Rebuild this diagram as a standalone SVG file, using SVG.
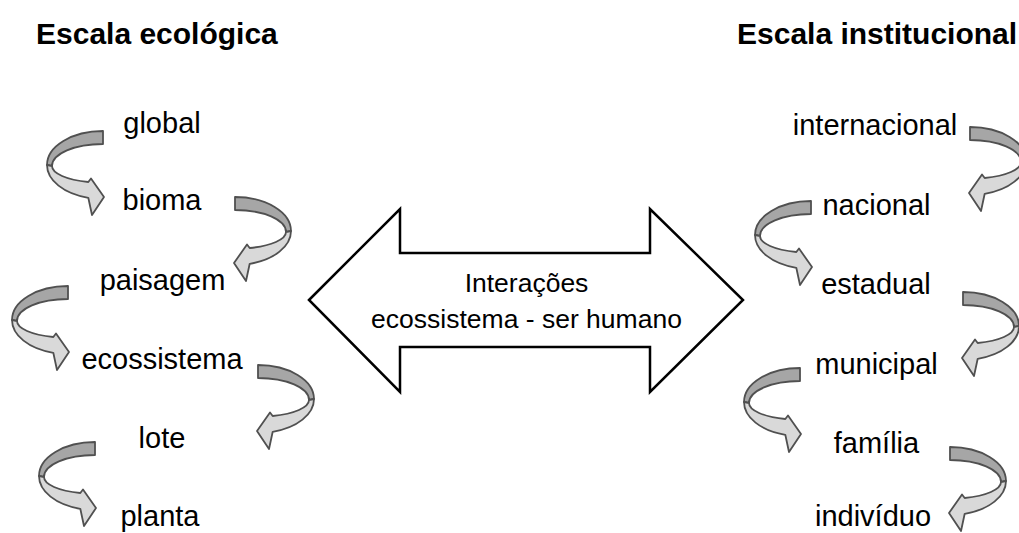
<svg xmlns="http://www.w3.org/2000/svg" xmlns:xlink="http://www.w3.org/1999/xlink" width="1019" height="533" viewBox="0 0 1019 533">
<defs>
<style>
.title{font-family:"Liberation Sans",Arial,sans-serif;font-weight:bold;font-size:30px;fill:#000}
.lbl{font-family:"Liberation Sans",Arial,sans-serif;font-size:29px;fill:#000;text-anchor:middle}
.ctr{font-family:"Liberation Sans",Arial,sans-serif;font-size:26.5px;fill:#000;text-anchor:middle}
.back{fill:#a6a6a6;stroke:#505050;stroke-width:1.8;stroke-linejoin:round}
.front{fill:#d9d9d9;stroke:#505050;stroke-width:1.8;stroke-linejoin:round}
.big{fill:#fff;stroke:#000;stroke-width:2.5;stroke-linejoin:miter}
</style>
<g id="curl">
<path class="back" d="M0,0 A56,34 0 0 0 -56,34 L-51,35 A51,22 0 0 1 0,13 Z"/>
<path class="front" d="M-56,34 A56,34 0 0 0 -14.7,66.8 L-11,84 L1,66 L-12,47.5 L-14.7,51 A51,16.7 0 0 1 -51,35 Z"/>
</g>
</defs>
<rect width="1019" height="533" fill="#fff"/>

<g id="titles">
<text class="title" x="36" y="43.5">Escala ecológica</text>
<text class="title" x="737" y="43.5">Escala institucional</text>
</g>

<g id="connectors">
<use xlink:href="#curl" transform="translate(103,131)"/>
<use xlink:href="#curl" transform="translate(235,197) scale(-1,1)"/>
<use xlink:href="#curl" transform="translate(68,286)"/>
<use xlink:href="#curl" transform="translate(258,365) scale(-1,1)"/>
<use xlink:href="#curl" transform="translate(95,442)"/>
<use xlink:href="#curl" transform="translate(970,127) scale(-1,1)"/>
<use xlink:href="#curl" transform="translate(811,201)"/>
<use xlink:href="#curl" transform="translate(963,292) scale(-1,1)"/>
<use xlink:href="#curl" transform="translate(800,368)"/>
<use xlink:href="#curl" transform="translate(950,447) scale(-1,1)"/>
</g>

<g id="interacoes">
<polygon class="big" points="309,300 400,209 400,253 650,253 650,209 743,300 650,392 650,347 400,347 400,392"/>
<text class="ctr" x="526.5" y="292">Interações</text>
<text class="ctr" x="526.5" y="328">ecossistema - ser humano</text>
</g>

<g id="global"><text class="lbl" x="162" y="133">global</text></g>
<g id="bioma"><text class="lbl" x="162" y="210">bioma</text></g>
<g id="paisagem"><text class="lbl" x="162.5" y="290">paisagem</text></g>
<g id="ecossistema"><text class="lbl" x="162" y="369">ecossistema</text></g>
<g id="lote"><text class="lbl" x="162" y="448">lote</text></g>
<g id="planta"><text class="lbl" x="160" y="526">planta</text></g>

<g id="internacional"><text class="lbl" x="875" y="135">internacional</text></g>
<g id="nacional"><text class="lbl" x="876.5" y="215">nacional</text></g>
<g id="estadual"><text class="lbl" x="876" y="294">estadual</text></g>
<g id="municipal"><text class="lbl" x="876.5" y="374">municipal</text></g>
<g id="familia"><text class="lbl" x="876.5" y="453">família</text></g>
<g id="individuo"><text class="lbl" x="873" y="526">indivíduo</text></g>
</svg>
